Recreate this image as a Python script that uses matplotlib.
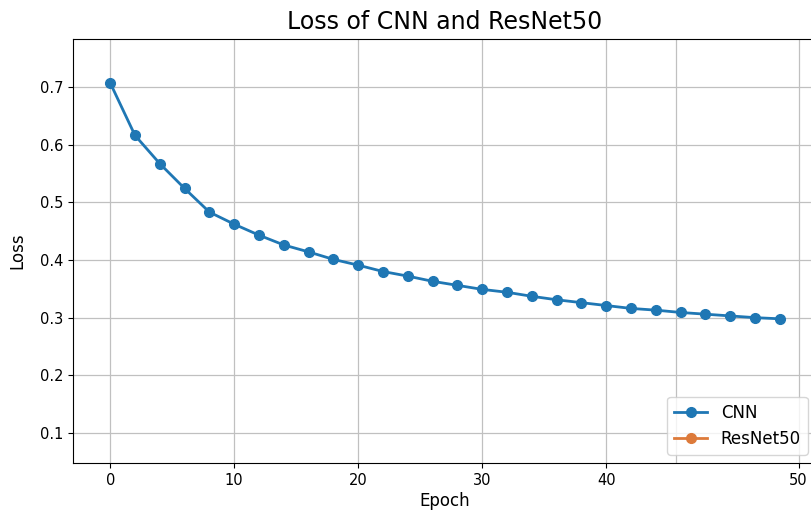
import matplotlib
matplotlib.use("Agg")
import matplotlib.pyplot as plt

# --- datos ---
epochs = list(range(0, 56, 2))
cnn_loss = [0.707, 0.616, 0.567, 0.524, 0.483, 0.462, 0.443, 0.426, 0.414, 0.401,
            0.391, 0.380, 0.372, 0.363, 0.356, 0.349, 0.344, 0.337, 0.331, 0.326,
            0.321, 0.316, 0.313, 0.309, 0.306, 0.303, 0.300, 0.298]
resnet_epochs = []
resnet_loss = []  # la serie ResNet50 no aparece en el grafico, solo en la leyenda

xtick_pos = [0, 10, 20, 30, 40, 55.5]
xtick_labels = ['0', '10', '20', '30', '40', '50']
extra_grid = [45.6]
ytick_pos = [0.1, 0.2, 0.3, 0.4, 0.5, 0.6, 0.7]

fig = plt.figure(figsize=(8.11, 5.12), dpi=100)
ax = fig.add_axes([0.09, 0.0957, 0.916, 0.828])

ax.plot(epochs, cnn_loss, marker='o', markersize=7, linewidth=2, color='#1f77b4', label='CNN')
ax.plot(resnet_epochs, resnet_loss, marker='o', markersize=7, linewidth=2, color='#dd7a3a', label='ResNet50')

ax.set_xlim(-3.0, 56.9)
ax.set_ylim(0.048, 0.783)
ax.set_xticks(xtick_pos)
ax.set_xticklabels(xtick_labels)
ax.set_xticks(extra_grid, minor=True)
ax.tick_params(axis='x', which='minor', length=0)
ax.set_yticks(ytick_pos)
ax.tick_params(labelsize=10.5)

ax.grid(True, which='both', color='#c0c0c0', linewidth=0.9)
ax.set_axisbelow(True)

ax.set_title('Loss of CNN and ResNet50', fontsize=17, pad=7)
# "Epoch" queda pegada al borde inferior, como en la referencia, pero entera
ax.set_xlabel('Epoch', fontsize=12, labelpad=3)
ax.set_ylabel('Loss', fontsize=12, labelpad=10)
ax.legend(loc='lower right', fontsize=12)

fig.savefig('out.png', dpi=100)
